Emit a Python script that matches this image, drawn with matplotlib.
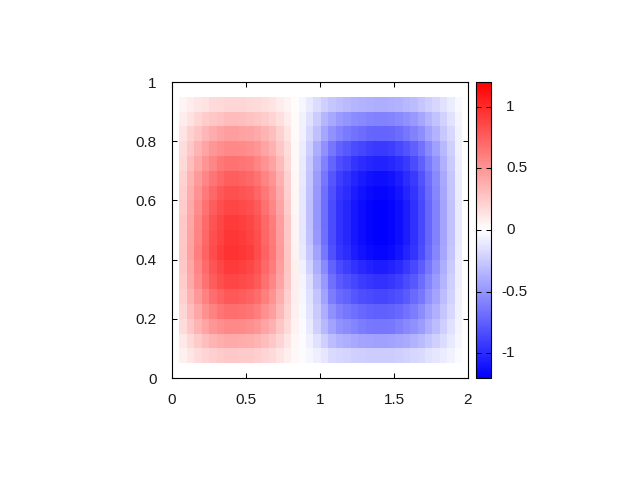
import matplotlib
matplotlib.use("Agg")
import matplotlib.pyplot as plt
import numpy as np
from matplotlib.colors import LinearSegmentedColormap

plt.rcParams['font.family'] = ['Liberation Sans', 'DejaVu Sans']

# cell edges
x_edges = [0.050, 0.100, 0.151, 0.201, 0.251, 0.302, 0.352, 0.402, 0.452, 0.503, 0.553, 0.603, 0.654,
           0.704, 0.754, 0.805, 0.855, 0.905, 0.955, 1.006, 1.056, 1.106, 1.157, 1.207, 1.257, 1.308,
           1.358, 1.408, 1.458, 1.509, 1.559, 1.609, 1.660, 1.710, 1.760, 1.811, 1.861, 1.911, 1.961]
y_edges = [0.95, 0.90, 0.85, 0.80, 0.75, 0.70, 0.65, 0.60, 0.55, 0.50,
           0.45, 0.40, 0.35, 0.30, 0.25, 0.20, 0.15, 0.10, 0.05]

# values, top row first
row00 = [.05,.09,.12,.14,.17,.18,.19,.19,.19,.18,.17,.15,.13,.09,.05,.01,-.04,-.10,-.16,-.22,-.27,-.30,-.32,-.35,-.36,-.37,-.38,-.38,-.37,-.36,-.33,-.31,-.27,-.23,-.19,-.14,-.09,-.03]
row01 = [.09,.14,.19,.24,.27,.29,.31,.31,.30,.29,.27,.24,.20,.15,.09,.02,-.06,-.15,-.24,-.34,-.41,-.47,-.50,-.54,-.56,-.58,-.59,-.59,-.58,-.55,-.52,-.48,-.42,-.35,-.29,-.21,-.14,-.05]
row02 = [.13,.21,.28,.34,.39,.43,.45,.45,.44,.43,.40,.35,.30,.22,.13,.02,-.07,-.18,-.30,-.42,-.51,-.58,-.62,-.66,-.69,-.72,-.73,-.73,-.72,-.69,-.64,-.59,-.53,-.44,-.36,-.26,-.18,-.06]
row03 = [.16,.26,.35,.43,.49,.53,.56,.56,.55,.53,.49,.43,.37,.27,.16,.03,-.09,-.23,-.38,-.52,-.64,-.74,-.78,-.84,-.87,-.90,-.92,-.92,-.90,-.86,-.81,-.75,-.66,-.55,-.45,-.33,-.22,-.07]
row04 = [.18,.30,.41,.50,.57,.63,.66,.66,.65,.63,.58,.51,.44,.32,.18,.03,-.10,-.26,-.43,-.59,-.73,-.83,-.88,-.95,-.99,-1.02,-1.04,-1.04,-1.02,-.98,-.92,-.84,-.75,-.62,-.51,-.37,-.25,-.08]
row05 = [.21,.35,.47,.57,.65,.71,.75,.75,.74,.71,.66,.58,.50,.37,.21,.04,-.11,-.28,-.46,-.64,-.79,-.90,-.96,-1.03,-1.07,-1.11,-1.13,-1.13,-1.11,-1.06,-.99,-.92,-.81,-.68,-.55,-.41,-.27,-.09]
row06 = [.23,.38,.51,.62,.71,.78,.82,.82,.80,.78,.72,.63,.54,.40,.23,.04,-.12,-.29,-.48,-.67,-.82,-.94,-.99,-1.06,-1.11,-1.15,-1.17,-1.17,-1.15,-1.10,-1.03,-.95,-.84,-.70,-.57,-.42,-.28,-.09]
row07 = [.24,.40,.54,.66,.76,.83,.87,.87,.85,.83,.77,.67,.57,.43,.24,.04,-.12,-.30,-.49,-.68,-.84,-.96,-1.02,-1.09,-1.14,-1.18,-1.20,-1.20,-1.18,-1.13,-1.06,-.97,-.86,-.72,-.59,-.43,-.29,-.10]
row08 = [.26,.42,.57,.70,.80,.87,.92,.92,.90,.87,.81,.71,.61,.45,.26,.05,-.12,-.30,-.49,-.68,-.84,-.96,-1.02,-1.09,-1.14,-1.18,-1.20,-1.20,-1.18,-1.13,-1.06,-.97,-.86,-.72,-.59,-.43,-.29,-.10]
row09 = [.26,.43,.58,.71,.82,.89,.94,.94,.92,.89,.83,.72,.62,.46,.26,.05,-.12,-.29,-.48,-.67,-.84,-.96,-1.02,-1.09,-1.14,-1.18,-1.20,-1.20,-1.18,-1.13,-1.06,-.97,-.86,-.72,-.59,-.43,-.29,-.10]
row10 = [.27,.44,.60,.73,.84,.91,.96,.96,.94,.91,.84,.74,.63,.47,.27,.06,-.11,-.26,-.44,-.63,-.82,-.94,-.99,-1.06,-1.11,-1.15,-1.17,-1.17,-1.15,-1.10,-1.03,-.95,-.84,-.70,-.57,-.42,-.28,-.09]
row11 = [.26,.42,.57,.70,.80,.87,.92,.92,.90,.87,.81,.71,.61,.45,.27,.07,-.07,-.21,-.38,-.55,-.74,-.85,-.90,-.96,-1.01,-1.04,-1.06,-1.06,-1.04,-1.00,-.93,-.86,-.76,-.64,-.52,-.38,-.25,-.08]
row12 = [.24,.40,.54,.66,.76,.83,.87,.87,.85,.83,.77,.67,.57,.43,.26,.08,-.05,-.16,-.33,-.48,-.67,-.77,-.82,-.87,-.91,-.94,-.96,-.96,-.94,-.90,-.84,-.78,-.69,-.58,-.47,-.35,-.23,-.08]
row13 = [.22,.36,.48,.59,.68,.74,.78,.78,.76,.74,.69,.60,.51,.38,.23,.08,-.04,-.15,-.28,-.44,-.61,-.70,-.74,-.79,-.83,-.85,-.87,-.87,-.85,-.82,-.77,-.70,-.63,-.52,-.43,-.31,-.21,-.07]
row14 = [.19,.31,.42,.52,.59,.65,.68,.68,.67,.65,.60,.52,.45,.33,.20,.07,-.03,-.13,-.25,-.38,-.52,-.60,-.64,-.68,-.71,-.74,-.75,-.75,-.74,-.71,-.66,-.61,-.54,-.45,-.37,-.27,-.18,-.06]
row15 = [.16,.26,.35,.43,.49,.53,.56,.56,.55,.53,.49,.43,.37,.27,.17,.06,-.02,-.10,-.22,-.33,-.44,-.51,-.54,-.58,-.61,-.63,-.64,-.64,-.63,-.60,-.56,-.52,-.46,-.38,-.31,-.23,-.15,-.05]
row16 = [.11,.18,.25,.30,.35,.38,.40,.40,.39,.38,.35,.31,.26,.20,.12,.04,-.01,-.07,-.15,-.23,-.31,-.36,-.38,-.41,-.43,-.44,-.45,-.45,-.44,-.42,-.40,-.36,-.32,-.27,-.22,-.16,-.11,-.04]
row17 = [.07,.12,.16,.20,.23,.25,.26,.26,.25,.25,.23,.20,.17,.13,.08,.03,-.01,-.04,-.08,-.12,-.17,-.19,-.20,-.22,-.23,-.24,-.24,-.24,-.24,-.23,-.21,-.19,-.17,-.14,-.12,-.09,-.06,-.02]

rows = [row00, row01, row02, row03, row04, row05, row06, row07, row08,
        row09, row10, row11, row12, row13, row14, row15, row16, row17]

x_ticks = [0, 0.5, 1, 1.5, 2]
x_labels = ["0", "0.5", "1", "1.5", "2"]
y_ticks = [0, 0.2, 0.4, 0.6, 0.8, 1]
y_labels = ["0", "0.2", "0.4", "0.6", "0.8", "1"]
cb_ticks = [-1, -0.5, 0, 0.5, 1]
cb_labels = ["-1", "-0.5", "0", "0.5", "1"]

cmap = LinearSegmentedColormap.from_list("bwr2", ["#0000ff", "#ffffff", "#ff0000"], N=256)

fig = plt.figure(figsize=(6.4, 4.8), dpi=100)
ax = fig.add_axes([172/640, 1 - 378/480, 296/640, 296/480])
cax = fig.add_axes([476/640, 1 - 378/480, 15/640, 296/480])

mesh = ax.pcolormesh(x_edges, y_edges, np.array(rows), cmap=cmap, vmin=-1.2, vmax=1.2,
                     antialiased=False, linewidth=0, rasterized=True)
ax.set_xlim(0, 2)
ax.set_ylim(0, 1)
ax.set_xticks(x_ticks, x_labels)
ax.set_yticks(y_ticks, y_labels)
ax.tick_params(direction="in", top=True, right=True, length=3.6, width=0.75,
               labelsize=11, labelcolor="#1a1a1a")
ax.tick_params(axis="x", pad=11)
ax.tick_params(axis="y", pad=11)
for s in ax.spines.values():
    s.set_linewidth(0.8)

cb = fig.colorbar(mesh, cax=cax)
cb.set_ticks(cb_ticks)
cb.set_ticklabels([])
cax.tick_params(direction="in", left=True, right=True, length=3.6, width=0.75)
cb.outline.set_linewidth(0.8)
for t, lab in zip(cb_ticks, cb_labels):
    # minus sign hangs out to the left of the digits
    xpos = 501.5 if lab.startswith("-") else 506
    cax.text((xpos - 476) / 15, t, lab, transform=cax.get_yaxis_transform(),
             ha="left", va="center", fontsize=11, color="#1a1a1a")

fig.savefig("out.png", dpi=100)
